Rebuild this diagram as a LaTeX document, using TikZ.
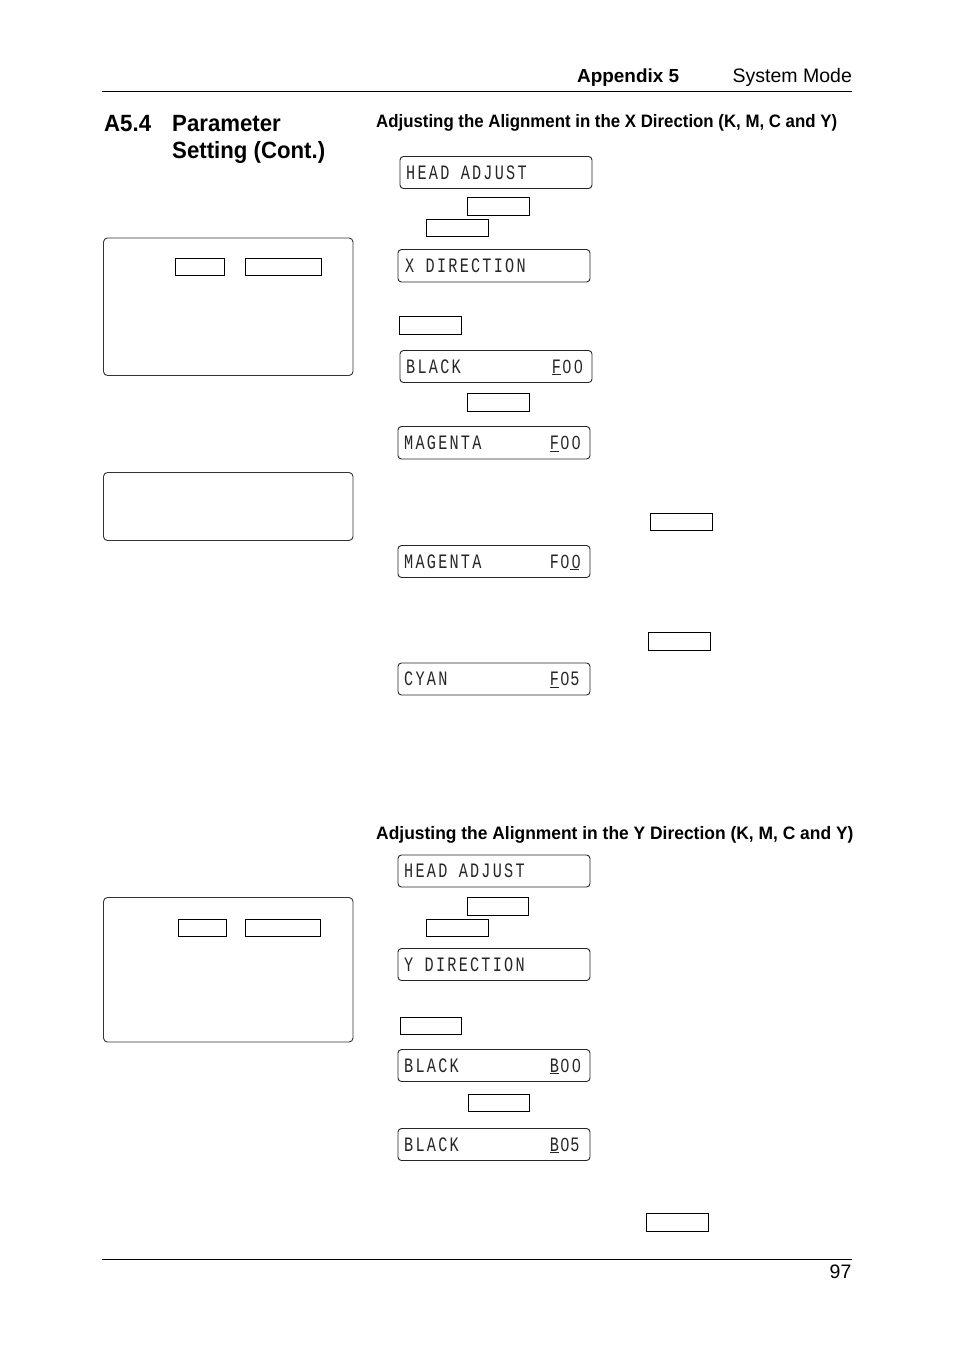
\documentclass[tikz,border=0pt]{standalone}
\usepackage{fontspec}
\setmainfont{Liberation Sans}
\newfontfamily\lcdfont[FakeStretch=0.74,LetterSpace=11]{Liberation Mono}
\newfontfamily\lcdzerofont[FakeStretch=0.82]{Liberation Sans}
\newfontfamily\headxfont[FakeStretch=0.935]{Liberation Sans Bold}
\newfontfamily\headyfont[FakeStretch=0.968]{Liberation Sans Bold}
\newfontfamily\secfont[FakeStretch=0.945]{Liberation Sans Bold}
\newcommand{\lcdgap}[1]{\hspace*{\dimexpr#1\dimexpr11.4pt\relax\relax}}
\newcommand{\lcdul}[1]{\rlap{\rule[-2.2pt]{9pt}{0.8pt}}#1}
\newcommand{\lcdz}{\makebox[11.4pt][l]{\hspace*{1.6pt}\lcdzerofont\fontsize{19}{21}\selectfont 0}}
\tikzset{
  panel/.style={draw=black!80,line width=0.9pt,rounded corners=4pt},
  lcdframe/.style={draw=black!85,line width=0.9pt,rounded corners=3.5pt},
  keybox/.style={draw=black,line width=1pt},
  lcdtext/.style={anchor=base west,inner sep=0pt,font=\lcdfont\fontsize{20.5}{21}\selectfont,text=black!85},
  seclabel/.style={anchor=base west,inner sep=0pt,font=\secfont\fontsize{23.5}{27}\selectfont},
  subheadx/.style={anchor=base west,inner sep=0pt,font=\headxfont\fontsize{18}{20}\selectfont},
  subheady/.style={anchor=base west,inner sep=0pt,font=\headyfont\fontsize{18}{20}\selectfont},
  appx/.style={anchor=base west,inner sep=0pt,font=\bfseries\fontsize{18.9}{20}\selectfont},
  plain/.style={anchor=base west,inner sep=0pt,font=\fontsize{19.5}{22}\selectfont},
  rulebar/.style={draw=black,line width=1pt}
}
\newcommand{\lcd}[7]{% name x1 y1 x2 y2 textx text
  \draw[lcdframe] (#2,#3) rectangle (#4,#5);
  \node[lcdtext] (#1) at (#6,#5-9.5) {#7};}
\newcommand{\keyrect}[5]{%
  \coordinate (#1a) at (#2,#3); \coordinate (#1b) at (#4,#5);
  \draw[keybox] (#1a) rectangle (#1b);}
\begin{document}
\begin{tikzpicture}[x=1pt,y=-1pt]
\useasboundingbox (0,0) rectangle (954,1351);
\fill[white] (0,0) rectangle (954,1351);

% header and footer
\coordinate (ht1) at (102,91.5); \coordinate (ht2) at (852,91.5);
\draw[rulebar] (ht1) -- (ht2);
\coordinate (ft1) at (102,1259.5); \coordinate (ft2) at (852,1259.5);
\draw[rulebar] (ft1) -- (ft2);
\node[appx] (app) at (577,83) {Appendix 5};
\node[plain] (sys) at (732.5,83) {System Mode};
\node[plain] (pg) at (829.5,1278.5) {97};

% section title
\node[seclabel] (sec) at (104,132) {A5.4};
\node[seclabel] (t1) at (172,132) {Parameter};
\node[seclabel] (t2) at (172,159) {Setting (Cont.)};

% sub-headings
\node[subheadx] (hx) at (376,127.5) {Adjusting the Alignment in the X Direction (K, M, C and Y)};
\node[subheady] (hy) at (376,839) {Adjusting the Alignment in the Y Direction (K, M, C and Y)};

% left panels
\draw[panel] (103.5,238) rectangle (353,375.5);
\keyrect{la}{175.5}{258.5}{224}{275}
\keyrect{lb}{245.5}{258.5}{321.5}{275}
\draw[panel] (103.5,472.5) rectangle (353,540.5);
\draw[panel] (103.5,897.5) rectangle (353,1042);
\keyrect{lc}{178}{919.5}{226}{936.5}
\keyrect{ld}{245.5}{919.5}{320.5}{936.5}

% X section
\lcd{d1}{400}{156.5}{592}{188.5}{406}{HEAD\lcdgap{1}ADJUST}
\keyrect{k1}{467}{197.5}{529.5}{215.5}
\keyrect{k2}{426}{219.5}{488.5}{236.5}
\lcd{d2}{398}{249.5}{590}{282}{405}{X\lcdgap{1}DIRECTION}
\keyrect{k3}{399.5}{316.5}{461.5}{334}
\lcd{d3}{400}{350.5}{592}{382.5}{406}{BLACK\lcdgap{8}\lcdul{F}\lcdz\lcdz}
\keyrect{k4}{467}{393.5}{529.5}{411}
\lcd{d4}{398}{426.5}{590}{459}{404}{MAGENTA\lcdgap{6}\lcdul{F}\lcdz\lcdz}
\keyrect{k5}{650}{513.5}{712.5}{530}
\lcd{d5}{398}{545.5}{590}{577.5}{404}{MAGENTA\lcdgap{6}F\lcdz\lcdul{\lcdz}}
\keyrect{k6}{648}{632.5}{710.5}{650.5}
\lcd{d6}{398}{663}{590}{695}{404}{CYAN\lcdgap{9}\lcdul{F}\lcdz 5}

% Y section
\lcd{d7}{398}{855}{590}{887}{404}{HEAD\lcdgap{1}ADJUST}
\keyrect{k7}{467}{897.5}{528.5}{915}
\keyrect{k8}{426}{919.5}{488.5}{936.5}
\lcd{d8}{398}{948.5}{590}{980.5}{404}{Y\lcdgap{1}DIRECTION}
\keyrect{k9}{400.5}{1017.5}{461.5}{1034.5}
\lcd{d9}{398}{1049.5}{590}{1081.5}{404}{BLACK\lcdgap{8}\lcdul{B}\lcdz\lcdz}
\keyrect{k10}{468}{1094}{529}{1111.5}
\lcd{d10}{398}{1128.5}{590}{1160.5}{404}{BLACK\lcdgap{8}\lcdul{B}\lcdz 5}
\keyrect{k11}{646}{1213.5}{708.5}{1231}
\end{tikzpicture}
\end{document}
